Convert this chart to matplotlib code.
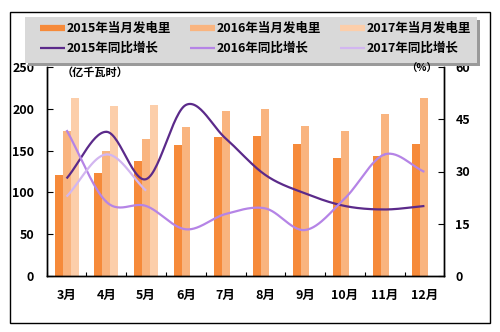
import numpy as np
import matplotlib
matplotlib.use("Agg")
import matplotlib.pyplot as plt
from matplotlib.patches import Rectangle
from matplotlib.lines import Line2D

plt.rcParams['font.family'] = ['Noto Sans CJK SC', 'DejaVu Sans']
plt.rcParams['font.weight'] = 'bold'

months = ['3月', '4月', '5月', '6月', '7月', '8月', '9月', '10月', '11月', '12月']
gen_2015 = [121, 123, 137, 157, 166, 168, 158, 141, 144, 158]
gen_2016 = [173, 150, 164, 178, 197, 200, 179, 173, 194, 213]
gen_2017 = [213, 203, 204, np.nan, np.nan, np.nan, np.nan, np.nan, np.nan, np.nan]
yoy_2015 = [28.0, 41.4, 27.8, 49.1, 39.5, 29.0, 23.7, 20.1, 19.1, 20.1]
yoy_2016 = [41.9, 21.3, 20.1, 13.4, 17.8, 19.4, 13.2, 22.3, 34.9, 29.9]
yoy_2017 = [22.8, 34.9, 24.5, np.nan, np.nan, np.nan, np.nan, np.nan, np.nan, np.nan]

bar_labels = ['2015年当月发电里', '2016年当月发电里', '2017年当月发电里']
line_labels = ['2015年同比增长', '2016年同比增长', '2017年同比增长']
bar_colors = ['#F68A3A', '#F9B47F', '#FCCEAA']
line_colors = ['#5B2A8A', '#B584E6', '#D2B6F0']


def smooth(xs, ys, n=30):
    """Catmull-Rom curve through the given points (Excel-like smoothed line)."""
    xs = np.asarray(xs, float)
    ys = np.asarray(ys, float)
    keep = ~np.isnan(ys)
    xs, ys = xs[keep], ys[keep]
    px = np.concatenate([[2 * xs[0] - xs[1]], xs, [2 * xs[-1] - xs[-2]]])
    py = np.concatenate([[2 * ys[0] - ys[1]], ys, [2 * ys[-1] - ys[-2]]])
    out_x, out_y = [], []
    t = np.linspace(0, 1, n)
    for i in range(1, len(px) - 2):
        for arr, out in ((px, out_x), (py, out_y)):
            p0, p1, p2, p3 = arr[i - 1], arr[i], arr[i + 1], arr[i + 2]
            seg = 0.5 * ((2 * p1) + (-p0 + p2) * t +
                         (2 * p0 - 5 * p1 + 4 * p2 - p3) * t ** 2 +
                         (-p0 + 3 * p1 - 3 * p2 + p3) * t ** 3)
            out.extend(seg)
    return np.array(out_x), np.array(out_y)


W, H = 500, 332
fig = plt.figure(figsize=(W / 100, H / 100), dpi=100)
fig.patch.set_facecolor('white')

# outer frame
fig.add_artist(Rectangle((10 / W, 1 - 323 / H), 480 / W, 311 / H,
                         transform=fig.transFigure, fill=False,
                         edgecolor='black', linewidth=1.0))

ax = fig.add_axes([46.7 / W, 1 - 276 / H, 397.6 / W, 209 / H])
ax2 = ax.twinx()

x = np.arange(len(months))
bw = 0.2
for k, (vals, c) in enumerate(zip([gen_2015, gen_2016, gen_2017], bar_colors)):
    ax.bar(x + (k - 1) * bw, vals, width=bw, color=c, linewidth=0, zorder=2)

for vals, c in zip([yoy_2015, yoy_2016, yoy_2017], line_colors):
    sx, sy = smooth(x, vals)
    ax2.plot(sx, sy, color=c, linewidth=1.6, solid_capstyle='butt', zorder=3)

ax.set_xlim(-0.5, len(months) - 0.5)
ax.set_ylim(0, 250)
ax2.set_ylim(0, 60)
ax.set_yticks([0, 50, 100, 150, 200, 250])
ax2.set_yticks([0, 15, 30, 45, 60])
ax.set_xticks(x)
ax.set_xticklabels(months)
ax.set_xticks(np.arange(-0.5, len(months), 1.0), minor=True)

for a in (ax, ax2):
    a.spines['top'].set_visible(False)
    for s in a.spines.values():
        s.set_linewidth(1.0)
ax.tick_params(axis='x', which='major', length=0, pad=9, labelsize=9)
ax.tick_params(axis='x', which='minor', direction='in', length=3, width=0.8)
ax.tick_params(axis='y', direction='in', length=4, width=0.8, pad=9, labelsize=9)
ax2.tick_params(axis='y', direction='in', length=4, width=0.8, pad=8, labelsize=9)
for lab in ax.get_xticklabels() + ax.get_yticklabels() + ax2.get_yticklabels():
    lab.set_fontweight('bold')

ax.set_zorder(ax2.get_zorder() - 1)
ax2.patch.set_visible(False)

fig.text(62 / W, 1 - 72 / H, '（亿千瓦时）', fontsize=8, fontweight='bold',
         ha='left', va='center')
fig.text(437 / W, 1 - 69 / H, '（%）', fontsize=7.5, fontweight='bold',
         ha='right', va='center')

# legend panel with drop shadow
lx0, ly0, lx1, ly1 = 25, 17, 477, 63
fig.add_artist(Rectangle(((lx0 + 3) / W, 1 - (ly1 + 3) / H), (lx1 - lx0) / W,
                         (ly1 - ly0) / H, transform=fig.transFigure,
                         facecolor='#9A9A9A', edgecolor='none'))
fig.add_artist(Rectangle((lx0 / W, 1 - ly1 / H), (lx1 - lx0) / W,
                         (ly1 - ly0) / H, transform=fig.transFigure,
                         facecolor='#D9D9D9', edgecolor='none'))
col_x = [40, 190, 340]
row_y = [28, 48]
for i in range(3):
    hx0, hx1 = col_x[i], col_x[i] + 25
    fig.add_artist(Line2D([hx0 / W, hx1 / W], [1 - row_y[0] / H] * 2,
                          transform=fig.transFigure, color=bar_colors[i],
                          linewidth=4.5, solid_capstyle='butt'))
    fig.text((hx1 + 2) / W, 1 - row_y[0] / H, bar_labels[i], fontsize=9,
             fontweight='bold', ha='left', va='center')
    fig.add_artist(Line2D([hx0 / W, hx1 / W], [1 - row_y[1] / H] * 2,
                          transform=fig.transFigure, color=line_colors[i],
                          linewidth=1.6, solid_capstyle='butt'))
    fig.text((hx1 + 2) / W, 1 - row_y[1] / H, line_labels[i], fontsize=9,
             fontweight='bold', ha='left', va='center')

fig.savefig('out.png', dpi=100)
